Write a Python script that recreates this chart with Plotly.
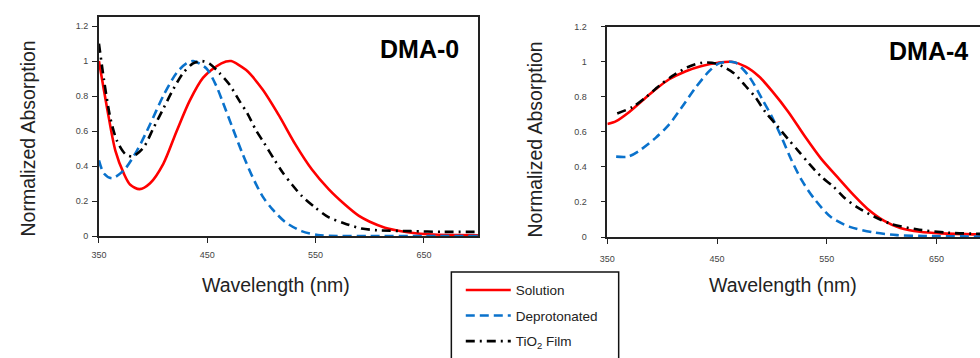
import plotly.graph_objects as go

# ---------------- DATA ----------------
series_names = ["Solution", "Deprotonated", "TiO<sub>2</sub> Film"]
panel_labels = ["DMA-0", "DMA-4"]
x_ticks = [350, 450, 550, 650]
y_ticks = [0, 0.2, 0.4, 0.6, 0.8, 1, 1.2]

# DMA-0
dma0_sol_wl = [350, 357.6, 365.2, 372.9, 378.9, 387.5, 397.2, 409.4, 421.6, 433.8, 446, 458.2, 467.3, 472,
               485.6, 500.9, 516, 531.3, 546.6, 562, 577, 590, 600, 614, 629, 644, 659, 680, 700]
dma0_sol_v = [1.0, 0.728, 0.487, 0.358, 0.293, 0.268, 0.302, 0.413, 0.598, 0.774, 0.904, 0.969, 0.997, 1.0,
              0.95, 0.839, 0.691, 0.524, 0.38, 0.268, 0.18, 0.115, 0.082, 0.048, 0.028, 0.015, 0.009, 0.006, 0.005]

dma0_dep_wl = [350, 354.6, 362, 373, 385, 397, 409.4, 421.6, 430.7, 437, 449, 458.2, 464.3, 473.4, 482.6,
               491.7, 500.9, 510, 522, 537, 552, 570, 600, 650, 700]
dma0_dep_v = [0.432, 0.358, 0.33, 0.376, 0.487, 0.636, 0.802, 0.932, 0.987, 1.0, 0.959, 0.86, 0.765, 0.617, 0.469,
              0.339, 0.228, 0.154, 0.08, 0.028, 0.006, 0.0, 0.0, 0.0, 0.0]

dma0_tio_wl = [350, 354.6, 360.6, 366.7, 374.3, 381, 391.1, 400.3, 409.4, 418.6, 427.7, 436.9, 445, 452, 461.2,
               470.3, 479.5, 487.1, 494.7, 502.3, 511.5, 519.1, 528.3, 537.4, 549.6, 561.8, 575.5, 592.3, 607.5,
               638, 668.5, 700]
dma0_tio_v = [1.1, 0.894, 0.672, 0.543, 0.469, 0.455, 0.506, 0.617, 0.728, 0.839, 0.932, 0.987, 1.0, 0.985, 0.932,
              0.867, 0.774, 0.7, 0.608, 0.533, 0.441, 0.367, 0.293, 0.228, 0.163, 0.108, 0.075, 0.043, 0.033,
              0.028, 0.024, 0.024]

# DMA-4
dma4_sol_wl = [350, 358, 370, 382, 394, 406, 421, 436, 451, 463, 476, 488, 500, 515, 530, 545, 560, 575, 587,
               602, 617, 635, 654, 690]
dma4_sol_v = [0.645, 0.662, 0.714, 0.779, 0.843, 0.899, 0.945, 0.976, 0.995, 1.0, 0.973, 0.918, 0.834, 0.714,
              0.575, 0.446, 0.34, 0.236, 0.162, 0.094, 0.052, 0.03, 0.021, 0.015]

dma4_dep_wl = [358, 369, 379, 394, 406, 418, 430.5, 442.6, 451.6, 461, 467, 479, 491, 500, 509, 518, 527, 539,
               554, 571, 593, 614, 638, 690]
dma4_dep_v = [0.459, 0.459, 0.492, 0.566, 0.64, 0.742, 0.853, 0.945, 0.991, 1.0, 0.995, 0.918, 0.788, 0.686,
              0.566, 0.437, 0.326, 0.215, 0.113, 0.058, 0.026, 0.011, 0.006, 0.003]

dma4_tio_wl = [359, 373, 385, 397, 409, 423, 436.5, 448.6, 454.6, 465, 476, 485, 494, 504, 515, 524, 534, 545,
               556, 566, 578, 593, 608, 632, 660, 690]
dma4_tio_v = [0.705, 0.742, 0.797, 0.862, 0.918, 0.969, 0.995, 0.991, 0.975, 0.936, 0.862, 0.797, 0.714, 0.64,
              0.557, 0.492, 0.418, 0.344, 0.288, 0.224, 0.169, 0.117, 0.076, 0.044, 0.025, 0.018]

# ---------------- STYLE ----------------
W, H = 980, 358
FONT = "Arial, 'Liberation Sans', Helvetica, sans-serif"
styles = [
    dict(color="#FF0000", width=2.6, dash="solid"),
    dict(color="#0A72CC", width=2.6, dash="9px,5px"),
    dict(color="#000000", width=2.6, dash="9px,5px,2px,5px"),
]

def px_x(p):
    return p / W

def px_y(p):
    return (H - p) / H

fig = go.Figure()

panels = [
    [(dma0_sol_wl, dma0_sol_v), (dma0_dep_wl, dma0_dep_v), (dma0_tio_wl, dma0_tio_v)],
    [(dma4_sol_wl, dma4_sol_v), (dma4_dep_wl, dma4_dep_v), (dma4_tio_wl, dma4_tio_v)],
]
for pi, panel in enumerate(panels):
    xa = "x" if pi == 0 else "x2"
    ya = "y" if pi == 0 else "y2"
    for si in [0, 1, 2]:
        wl, v = panel[si]
        fig.add_trace(go.Scatter(
            x=wl, y=v, mode="lines", name=series_names[si],
            line=dict(shape="spline", smoothing=0.8, **styles[si]),
            xaxis=xa, yaxis=ya, legendgroup=series_names[si],
            showlegend=(pi == 0), legendrank=si + 1,
        ))

axis_common = dict(
    showgrid=False, zeroline=False, showline=True, linecolor="#222222", linewidth=1.6,
    ticks="outside", ticklen=5, tickwidth=1.3, tickcolor="#222222",
    tickfont=dict(family=FONT, size=9, color="#444444"),
)

fig.update_layout(
    width=W, height=H, margin=dict(l=0, r=0, t=0, b=0),
    paper_bgcolor="white", plot_bgcolor="white",
    xaxis=dict(domain=[px_x(91.7), px_x(474)], range=[350, 700], tickvals=x_ticks,
               mirror=True, anchor="y", ticklabelstandoff=4, **axis_common),
    yaxis=dict(domain=[px_y(237.7), px_y(12.7)], range=[0, 1.25], tickvals=y_ticks,
               mirror=True, anchor="x", ticklabelstandoff=2, **axis_common),
    xaxis2=dict(domain=[px_x(604.3), 1.0], range=[350, 689.7], tickvals=x_ticks,
                mirror=True, anchor="y2", ticklabelstandoff=7, **axis_common),
    yaxis2=dict(domain=[px_y(238.7), px_y(22.4)], range=[0, 1.2], tickvals=y_ticks,
                mirror=False, anchor="x2", ticklabelstandoff=12, **axis_common),
    showlegend=True,
    legend=dict(
        x=px_x(456.5), y=px_y(277.5), xanchor="left", yanchor="top",
        borderwidth=0, bgcolor="rgba(0,0,0,0)",
        font=dict(family=FONT, size=13.5, color="#222222"),
        traceorder="grouped", tracegroupgap=5, itemwidth=45,
    ),
    shapes=[dict(type="rect", xref="paper", yref="paper",
                 x0=px_x(447), x1=px_x(615.7), y0=px_y(375), y1=px_y(274.7),
                 line=dict(color="#111111", width=1.5), fillcolor="rgba(0,0,0,0)", layer="below")],
)

annos = [
    dict(text="Normalized Absorption", x=px_x(20), y=px_y(137.5), textangle=-90, size=19.5),
    dict(text="Normalized Absorption", x=px_x(531.7), y=px_y(138), textangle=-90, size=19.5),
    dict(text="Wavelength (nm)", x=px_x(270), y=px_y(288), textangle=0, size=19.5),
    dict(text="Wavelength (nm)", x=px_x(781), y=px_y(288), textangle=0, size=19.5),
]
for a in annos:
    fig.add_annotation(text=a["text"], x=a["x"], y=a["y"], xref="paper", yref="paper",
                       xanchor="center", yanchor="middle", showarrow=False, textangle=a["textangle"],
                       font=dict(family=FONT, size=a["size"], color="#222222"))

fig.add_annotation(text="<b>%s</b>" % panel_labels[0], x=px_x(415), y=px_y(45), xref="paper", yref="paper",
                   xanchor="center", yanchor="middle", showarrow=False,
                   font=dict(family=FONT, size=25, color="#000000"))
fig.add_annotation(text="<b>%s</b>" % panel_labels[1], x=px_x(928), y=px_y(47), xref="paper", yref="paper",
                   xanchor="center", yanchor="middle", showarrow=False,
                   font=dict(family=FONT, size=25, color="#000000"))

fig.write_html("out.html",
               post_script="document.body.style.margin='0';document.body.style.overflow='hidden';")
